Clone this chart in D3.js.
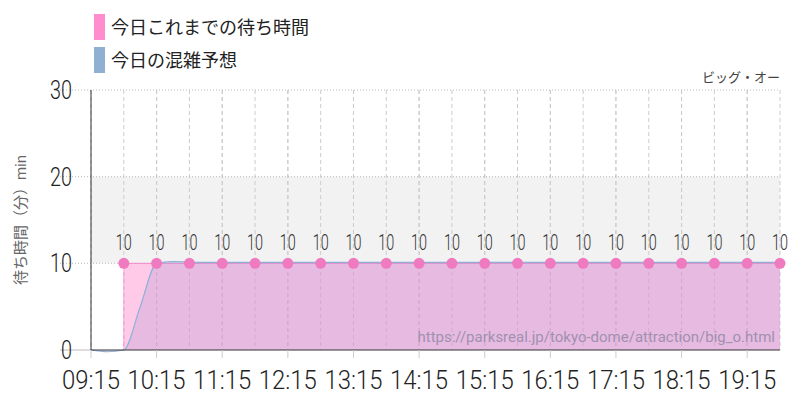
<!DOCTYPE html><html><head><meta charset="utf-8"><script src="https://cdn.jsdelivr.net/npm/d3@7"></script>
<style>body{margin:0;background:#fff}text{font-family:Roboto,"Noto Sans CJK JP",sans-serif}</style></head><body><svg id="c" width="800" height="400"></svg><script>
const actualTimes=["09:45","10:15","10:45","11:15","11:45","12:15","12:45","13:15","13:45","14:15","14:45","15:15","15:45","16:15","16:45","17:15","17:45","18:15","18:45","19:15","19:45"];
const actualWaits=[10,10,10,10,10,10,10,10,10,10,10,10,10,10,10,10,10,10,10,10,10];
const forecastTimes=["09:15","09:30","09:45","10:00","10:15","10:30","11:00","12:00","13:00","14:00","15:00","16:00","17:00","18:00","19:00","19:45"];
const forecastWaits=[0,-0.2,0,5,10,10.2,10.1,10.1,10.1,10.1,10.1,10.1,10.1,10.1,10.1,10.1];
const xTicks=["09:15","10:15","11:15","12:15","13:15","14:15","15:15","16:15","17:15","18:15","19:15"];
const yTicks=[0,10,20,30];
const p=d3.timeParse("%H:%M");
const svg=d3.select("#c");
const x=d3.scaleTime().domain([p("09:15"),p("19:45")]).range([91,780]);
const y=d3.scaleLinear().domain([0,30]).range([350,90]);
svg.append("rect").attr("x",91).attr("width",689).attr("y",y(20)).attr("height",y(10)-y(20)).attr("fill","#f2f2f2");
actualTimes.forEach(t=>svg.append("line").attr("x1",x(p(t))).attr("x2",x(p(t))).attr("y1",90).attr("y2",350).attr("stroke","#ccc").attr("stroke-dasharray","4,3"));
xTicks.forEach(t=>svg.append("line").attr("x1",x(p(t))).attr("x2",x(p(t))).attr("y1",90).attr("y2",350).attr("stroke","#ccc").attr("stroke-dasharray","4,3"));
yTicks.slice(1).forEach(v=>svg.append("line").attr("x1",60).attr("x2",780).attr("y1",y(v)).attr("y2",y(v)).attr("stroke","#bbb").attr("stroke-dasharray","1,2"));
svg.append("line").attr("x1",60).attr("x2",91).attr("y1",y(0)).attr("y2",y(0)).attr("stroke","#bbb");
const ad=actualTimes.map((t,i)=>[p(t),actualWaits[i]]);
svg.append("path").datum(ad).attr("d",d3.area().x(d=>x(d[0])).y0(y(0)).y1(d=>y(d[1])).curve(d3.curveStepAfter)).attr("fill","rgba(255,150,210,0.5)");
svg.append("line").attr("x1",x(ad[0][0])).attr("x2",x(ad[0][0])).attr("y1",y(0)).attr("y2",y(10)).attr("stroke","rgba(255,120,190,0.6)");
svg.append("path").datum(ad).attr("d",d3.line().x(d=>x(d[0])).y(d=>y(d[1])).curve(d3.curveStepAfter)).attr("fill","none").attr("stroke","#f08cc8").attr("stroke-width",1);
const fd=forecastTimes.map((t,i)=>[p(t),forecastWaits[i]]);
svg.append("path").datum(fd).attr("d",d3.area().x(d=>x(d[0])).y0(y(0)).y1(d=>y(d[1])).curve(d3.curveMonotoneX)).attr("fill","rgba(170,150,210,0.28)");
svg.append("path").datum(fd).attr("d",d3.line().x(d=>x(d[0])).y(d=>y(d[1])).curve(d3.curveMonotoneX)).attr("fill","none").attr("stroke","#8fb0d6").attr("stroke-width",1.2);
svg.append("line").attr("x1",91).attr("x2",91).attr("y1",90).attr("y2",350).attr("stroke","#333");
svg.append("line").attr("x1",91).attr("x2",780).attr("y1",350).attr("y2",350).attr("stroke","#333");
xTicks.forEach(t=>{svg.append("line").attr("x1",x(p(t))).attr("x2",x(p(t))).attr("y1",350).attr("y2",358).attr("stroke","#ccc");
svg.append("text").attr("x",x(p(t))).attr("y",389).attr("text-anchor","middle").attr("font-size",25).attr("font-weight",300).attr("fill","#222").attr("textLength",58).attr("lengthAdjust","spacingAndGlyphs").text(t);});
yTicks.forEach(v=>svg.append("text").attr("x",72).attr("y",y(v)+9).attr("text-anchor","end").attr("font-size",25).attr("font-weight",300).attr("fill","#222").attr("textLength",v?22:11).attr("lengthAdjust","spacingAndGlyphs").text(v));
ad.forEach(d=>{svg.append("circle").attr("cx",x(d[0])).attr("cy",y(d[1])).attr("r",5.5).attr("fill","#f07ac0");
svg.append("text").attr("x",x(d[0])).attr("y",y(d[1])-13).attr("text-anchor","middle").attr("font-size",22).attr("font-weight",300).attr("fill","#333").attr("textLength",16).attr("lengthAdjust","spacingAndGlyphs").text(d[1]);});
svg.append("text").attr("transform","translate(26,220) rotate(-90)").attr("text-anchor","middle").attr("font-size",15).attr("fill","#666").text("待ち時間（分）min");
svg.append("text").attr("x",780).attr("y",82).attr("text-anchor","end").attr("font-size",13).attr("fill","#444").text("ビッグ・オー");
svg.append("text").attr("x",775).attr("y",342).attr("text-anchor","end").attr("font-size",15).attr("fill","#a090b0").text("https://parksreal.jp/tokyo-dome/attraction/big_o.html");
[["今日これまでの待ち時間","#ff8ccc"],["今日の混雑予想","#8fb0d0"]].forEach((l,i)=>{svg.append("rect").attr("x",94).attr("y",14+i*33).attr("width",11).attr("height",26).attr("fill",l[1]);
svg.append("text").attr("x",111).attr("y",34+i*33).attr("font-size",18).attr("fill","#222").text(l[0]);});
</script></body></html>
